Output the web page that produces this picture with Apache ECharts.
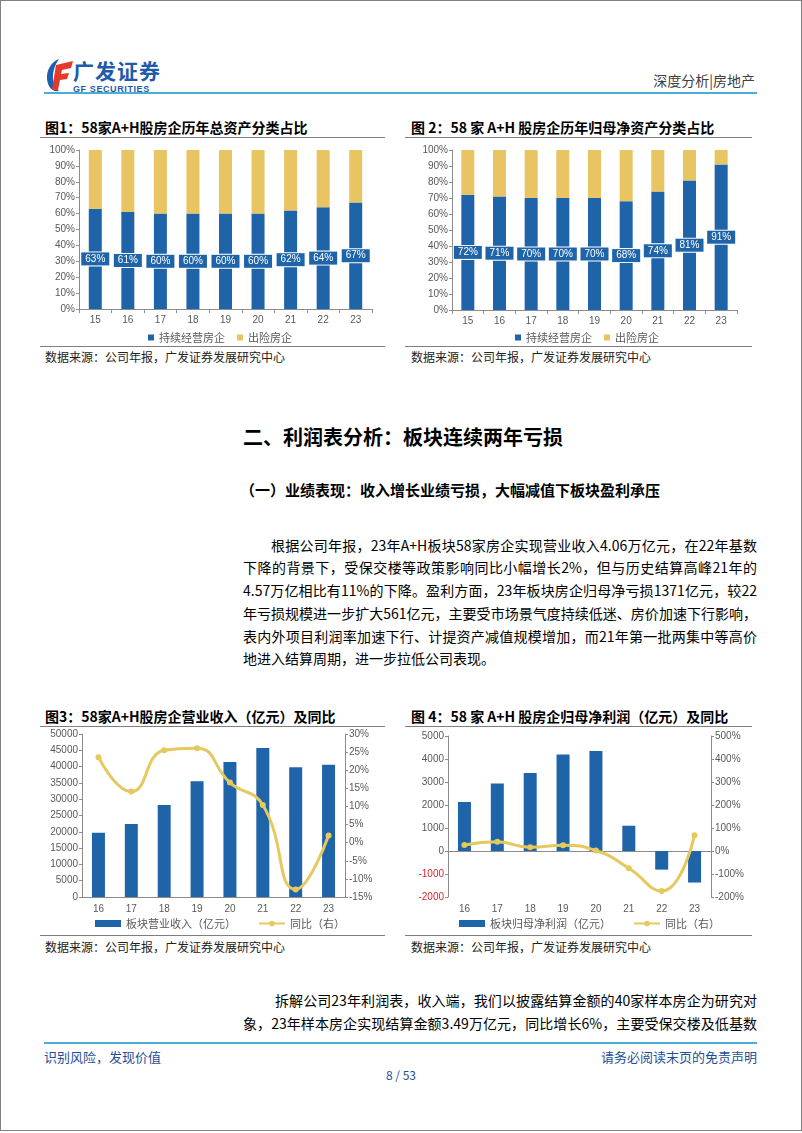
<!DOCTYPE html>
<html><head><meta charset="utf-8">
<script src="https://cdn.jsdelivr.net/npm/echarts@6/dist/echarts.min.js"></script>
<style>
html,body{margin:0;padding:0;background:#fff;}
body{position:relative;width:802px;height:1133px;overflow:hidden;font-family:"Noto Sans CJK SC","Liberation Sans",sans-serif;color:#000;}
.frame{position:absolute;left:0;top:0;width:800px;height:1129px;border:1px solid #808080;}
.abs{position:absolute;white-space:nowrap;}
.hline{position:absolute;height:0;}
.ctitle{font-size:14px;font-weight:bold;line-height:16px;color:#000;}
.src{font-size:12px;line-height:14px;color:#222;}
.pl{position:absolute;left:243px;width:514px;font-size:14px;line-height:18px;text-align:justify;text-align-last:justify;white-space:nowrap;}
.chart{position:absolute;width:350px;height:208px;}
</style>
</head><body>
<div class="frame"></div>

<!-- header -->
<svg class="abs" style="left:44px;top:57px" width="30" height="36" viewBox="0 0 30 36">
  <path d="M15 2 C5 6 0 18 5 29 C7 33 11 35 15 34 C8 28 6 15 15 2Z" fill="#1D5FB0"/>
  <path d="M12 8 L29 4 L27 11 L18 13 L17 17 L25 16 L23 22 L16 23 L14 33 L8 33 Z" fill="#E53A2A"/>
</svg>
<div class="abs" style="left:73px;top:58px;font-size:21px;font-weight:bold;line-height:24px;color:#1E5BAA;letter-spacing:1px;">广发证券</div>
<div class="abs" style="left:73px;top:84px;font-size:9px;font-weight:bold;line-height:10px;color:#1E5BAA;letter-spacing:0.6px;font-family:'Liberation Sans';">GF SECURITIES</div>
<div class="abs" style="right:47px;top:71px;font-size:14px;line-height:18px;color:#404040;">深度分析|房地产</div>
<div class="hline" style="left:44px;top:92px;width:713px;border-top:2px solid #4AADD8;"></div>

<!-- chart titles -->
<div class="abs ctitle" style="left:45px;top:119px;">图1：58家A+H股房企历年总资产分类占比</div>
<div class="abs ctitle" style="left:411px;top:119px;">图 2：58 家 A+H 股房企历年归母净资产分类占比</div>
<div class="hline" style="left:40px;top:137px;width:345px;border-top:1px solid #7f7f7f;"></div>
<div class="hline" style="left:405px;top:137px;width:347px;border-top:1px solid #7f7f7f;"></div>
<div id="c1" class="chart" style="left:40px;top:138px;"></div>
<div id="c2" class="chart" style="left:405px;top:138px;"></div>
<div class="hline" style="left:40px;top:346px;width:345px;border-top:1px solid #7f7f7f;"></div>
<div class="hline" style="left:405px;top:346px;width:347px;border-top:1px solid #7f7f7f;"></div>
<div class="abs src" style="left:45px;top:350px;">数据来源：公司年报，广发证券发展研究中心</div>
<div class="abs src" style="left:411px;top:350px;">数据来源：公司年报，广发证券发展研究中心</div>

<!-- section text -->
<div class="abs" style="left:243px;top:425px;font-size:20px;font-weight:bold;line-height:24px;">二、利润表分析：板块连续两年亏损</div>
<div class="abs" style="left:240px;top:481px;font-size:15px;font-weight:bold;line-height:18px;">（一）业绩表现：收入增长业绩亏损，大幅减值下板块盈利承压</div>
<div class="pl" style="top:536px;left:271px;width:486px;">根据公司年报，23年A+H板块58家房企实现营业收入4.06万亿元，在22年基数</div>
<div class="pl" style="top:558px;">下降的背景下，受保交楼等政策影响同比小幅增长2%，但与历史结算高峰21年的</div>
<div class="pl" style="top:581px;">4.57万亿相比有11%的下降。盈利方面，23年板块房企归母净亏损1371亿元，较22</div>
<div class="pl" style="top:604px;">年亏损规模进一步扩大561亿元，主要受市场景气度持续低迷、房价加速下行影响，</div>
<div class="pl" style="top:627px;">表内外项目利润率加速下行、计提资产减值规模增加，而21年第一批两集中等高价</div>
<div class="abs" style="left:243px;top:649px;font-size:14px;line-height:18px;">地进入结算周期，进一步拉低公司表现。</div>

<!-- charts 3/4 -->
<div class="abs ctitle" style="left:45px;top:708px;">图3：58家A+H股房企营业收入（亿元）及同比</div>
<div class="abs ctitle" style="left:411px;top:708px;">图 4：58 家 A+H 股房企归母净利润（亿元）及同比</div>
<div class="hline" style="left:40px;top:726px;width:345px;border-top:1px solid #7f7f7f;"></div>
<div class="hline" style="left:405px;top:726px;width:347px;border-top:1px solid #7f7f7f;"></div>
<div id="c3" class="chart" style="left:40px;top:727px;"></div>
<div id="c4" class="chart" style="left:405px;top:727px;"></div>
<div class="hline" style="left:40px;top:935px;width:345px;border-top:1px solid #7f7f7f;"></div>
<div class="hline" style="left:405px;top:935px;width:347px;border-top:1px solid #7f7f7f;"></div>
<div class="abs src" style="left:45px;top:940px;">数据来源：公司年报，广发证券发展研究中心</div>
<div class="abs src" style="left:411px;top:940px;">数据来源：公司年报，广发证券发展研究中心</div>

<div class="pl" style="top:991px;left:275px;width:482px;">拆解公司23年利润表，收入端，我们以披露结算金额的40家样本房企为研究对</div>
<div class="pl" style="top:1014px;">象，23年样本房企实现结算金额3.49万亿元，同比增长6%，主要受保交楼及低基数</div>

<!-- footer -->
<div class="hline" style="left:44px;top:1042px;width:713px;border-top:2px solid #4AADD8;"></div>
<div class="abs" style="left:44px;top:1049px;font-size:13px;line-height:16px;color:#1E4F96;">识别风险，发现价值</div>
<div class="abs" style="right:45px;top:1049px;font-size:13px;line-height:16px;color:#1E4F96;">请务必阅读末页的免责声明</div>
<div class="abs" style="left:0;width:802px;text-align:center;top:1068px;font-size:12px;line-height:14px;color:#1E4F96;">8 / 53</div>

<script>
// ---- data ----
const years15 = ['15','16','17','18','19','20','21','22','23'];
const assetOngoing = [63,61,60,60,60,60,62,64,67];
const assetRisk    = [37,39,40,40,40,40,38,36,33];
const equityOngoing = [72,71,70,70,70,68,74,81,91];
const equityRisk    = [28,29,30,30,30,32,26,19,9];
const years16 = ['16','17','18','19','20','21','22','23'];
const revenue    = [19700,22400,28200,35500,41400,45700,39800,40600];
const revenueYoy = [23.6,14.1,25.5,26.1,16.6,10.4,-12.9,2.0];
const netProfit    = [2130,2940,3390,4200,4350,1100,-810,-1371];
const netProfitYoy = [26,40,16,25,2,-75,-174,69];

const BLUE = '#1F64A8', GOLD = '#E8C462', LINEGOLD = '#E5C95E';
const AX = '#8c8c8c', LBL = '#595959';
const NUMF = 'Liberation Sans';
const plain = function (v) { return String(v); };

function stackOpt(cats, a, b, grid, legendLeft) {
  return {
    animation: false,
    grid: grid,
    legend: {
      left: legendLeft, top: 194, padding: 0, icon: 'rect', itemWidth: 6, itemHeight: 6, itemGap: 12,
      textStyle: {color: LBL, fontSize: 11, fontFamily: 'Noto Sans CJK SC'},
      data: ['持续经营房企', '出险房企']
    },
    xAxis: {
      type: 'category', data: cats,
      axisLine: {show: true, lineStyle: {color: AX}},
      axisTick: {show: true, length: 4, lineStyle: {color: AX}},
      axisLabel: {color: LBL, fontSize: 10, margin: 6, fontFamily: NUMF}
    },
    yAxis: {
      type: 'value', min: 0, max: 100, interval: 10,
      axisLine: {show: true, lineStyle: {color: AX}},
      axisTick: {show: true, length: 3, lineStyle: {color: AX}},
      splitLine: {show: false},
      axisLabel: {formatter: '{value}%', color: LBL, fontSize: 10, margin: 4, fontFamily: NUMF}
    },
    series: [
      {name: '持续经营房企', type: 'bar', stack: 's', data: a, barWidth: 13,
       itemStyle: {color: BLUE},
       label: {show: true, position: 'inside', formatter: '{c}%', color: '#fff', fontSize: 10,
               fontFamily: NUMF, backgroundColor: BLUE, borderColor: '#fff', borderWidth: 1,
               padding: [2, 4, 1, 4]}},
      {name: '出险房企', type: 'bar', stack: 's', data: b, barWidth: 13, itemStyle: {color: GOLD}}
    ]
  };
}

function comboOpt(cats, bars, line, barName, grid, legendLeft, left, right, zeroLine) {
  const xAxes = [{
    type: 'category', data: cats, position: 'bottom',
    axisLine: {show: !zeroLine, onZero: false, lineStyle: {color: AX}},
    axisTick: {show: false},
    axisLabel: {color: LBL, fontSize: 10, margin: 7, fontFamily: NUMF}
  }];
  if (zeroLine) {
    xAxes.push({
      type: 'category', data: cats, position: 'bottom',
      axisLine: {show: true, onZero: true, onZeroAxisIndex: 0, lineStyle: {color: AX}},
      axisTick: {show: false}, axisLabel: {show: false}
    });
  }
  return {
    animation: false,
    grid: grid,
    legend: {
      left: legendLeft, top: 191, padding: 0, itemWidth: 26, itemHeight: 7, itemGap: 22,
      textStyle: {color: LBL, fontSize: 11, fontFamily: 'Noto Sans CJK SC'},
      data: [{name: barName, icon: 'rect'}, {name: '同比（右）'}]
    },
    xAxis: xAxes,
    yAxis: [
      {
        type: 'value', position: 'left', min: left.min, max: left.max, interval: left.interval,
        axisLine: {show: true, lineStyle: {color: AX}},
        axisTick: {show: true, length: 3, lineStyle: {color: AX}},
        splitLine: {show: false},
        axisLabel: {formatter: plain, color: left.color || LBL, fontSize: 10, margin: 4, fontFamily: NUMF}
      },
      {
        type: 'value', position: 'right', min: right.min, max: right.max, interval: right.interval,
        axisLine: {show: true, lineStyle: {color: AX}},
        axisTick: {show: true, length: 3, lineStyle: {color: AX}},
        splitLine: {show: false},
        axisLabel: {formatter: '{value}%', color: LBL, fontSize: 10, margin: 4, fontFamily: NUMF}
      }
    ],
    series: [
      {name: barName, type: 'bar', data: bars, barWidth: 13, xAxisIndex: 0, yAxisIndex: 0,
       itemStyle: {color: BLUE}},
      {name: '同比（右）', type: 'line', data: line, xAxisIndex: 0, yAxisIndex: 1, smooth: 0.5,
       symbol: 'circle', symbolSize: 6, itemStyle: {color: LINEGOLD},
       lineStyle: {color: LINEGOLD, width: 3}, z: 5}
    ]
  };
}

echarts.init(document.getElementById('c1')).setOption(
  stackOpt(years15, assetOngoing, assetRisk, {left: 39, right: 18, top: 12, bottom: 37}, 108));
echarts.init(document.getElementById('c2')).setOption(
  stackOpt(years15, equityOngoing, equityRisk, {left: 47, right: 18, top: 12, bottom: 36}, 110));
echarts.init(document.getElementById('c3')).setOption(
  comboOpt(years16, revenue, revenueYoy, '板块营业收入（亿元）',
    {left: 42, right: 45, top: 7, bottom: 38}, 55,
    {min: 0, max: 50000, interval: 5000},
    {min: -15, max: 30, interval: 5}, false));
echarts.init(document.getElementById('c4')).setOption(
  comboOpt(years16, netProfit, netProfitYoy, '板块归母净利润（亿元）',
    {left: 43, right: 44, top: 9, bottom: 38}, 54,
    {min: -2000, max: 5000, interval: 1000, color: function (v) { return Number(v) < 0 ? '#E0242B' : LBL; }},
    {min: -200, max: 500, interval: 100}, true));
</script>
</body></html>
